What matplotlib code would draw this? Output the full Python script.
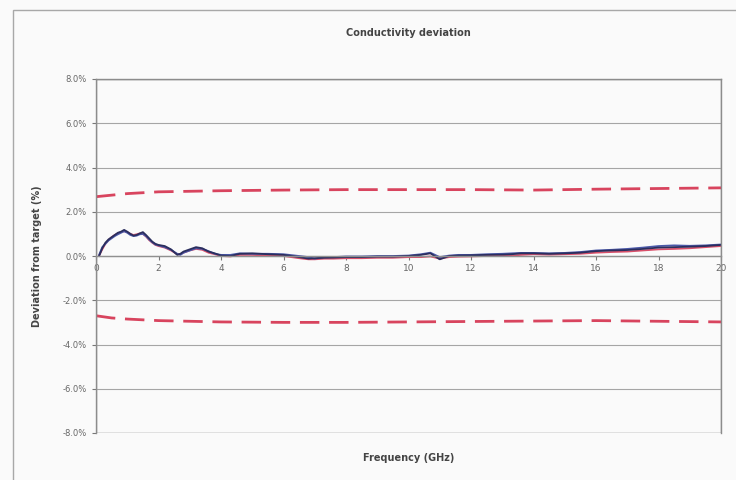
import matplotlib
matplotlib.use("Agg")
import matplotlib.pyplot as plt
from matplotlib.patches import Rectangle
from matplotlib.ticker import FuncFormatter, MultipleLocator

# ---- data ----
freq = [0.1, 0.2, 0.3, 0.4, 0.5, 0.6, 0.7, 0.8, 0.9, 1.0, 1.1, 1.2, 1.3, 1.4, 1.5,
        1.6, 1.7, 1.8, 1.9, 2.0, 2.2, 2.4, 2.6, 2.7, 2.8, 3.0, 3.2, 3.4, 3.6, 3.8,
        4.0, 4.3, 4.6, 5.0, 5.5, 6.0, 6.5, 6.8, 7.0, 7.3, 7.6, 8.0, 8.5, 9.0, 9.5,
        10.0, 10.4, 10.7, 11.0, 11.3, 11.6, 12.0, 12.5, 13.0, 13.3, 13.6, 14.0, 14.5,
        15.0, 15.5, 16.0, 16.5, 17.0, 17.5, 18.0, 18.5, 19.0, 19.5, 20.0]

dev_navy = [0.00, 0.35, 0.60, 0.75, 0.85, 0.95, 1.05, 1.10, 1.18, 1.10, 1.00, 0.92, 0.95,
            1.02, 1.08, 0.95, 0.80, 0.65, 0.55, 0.50, 0.45, 0.30, 0.05, 0.10, 0.20, 0.30,
            0.40, 0.35, 0.20, 0.12, 0.02, 0.00, 0.10, 0.12, 0.08, 0.05, -0.05, -0.12,
            -0.10, -0.08, -0.07, -0.05, -0.05, -0.03, -0.03, 0.00, 0.05, 0.12, -0.15,
            0.00, 0.02, 0.03, 0.05, 0.06, 0.08, 0.12, 0.12, 0.10, 0.12, 0.15, 0.22,
            0.25, 0.27, 0.32, 0.38, 0.40, 0.42, 0.45, 0.50]

dev_blue = [0.05, 0.40, 0.55, 0.70, 0.80, 0.90, 0.98, 1.05, 1.12, 1.05, 0.95, 0.90, 0.92,
            0.98, 1.00, 0.90, 0.75, 0.62, 0.52, 0.48, 0.40, 0.28, 0.10, 0.05, 0.15, 0.25,
            0.35, 0.32, 0.22, 0.10, 0.05, 0.05, 0.12, 0.10, 0.10, 0.08, 0.00, -0.05,
            -0.12, -0.05, -0.05, -0.02, -0.02, 0.00, 0.00, 0.02, 0.08, 0.15, -0.05,
            0.02, 0.05, 0.05, 0.08, 0.10, 0.12, 0.14, 0.14, 0.12, 0.14, 0.18, 0.25,
            0.28, 0.32, 0.38, 0.45, 0.48, 0.46, 0.48, 0.52]

dev_red = [0.02, 0.30, 0.55, 0.72, 0.85, 0.95, 1.02, 1.08, 1.12, 1.08, 1.00, 0.95, 0.98,
           1.02, 1.00, 0.88, 0.72, 0.60, 0.50, 0.45, 0.38, 0.25, 0.08, 0.08, 0.15, 0.25,
           0.32, 0.28, 0.15, 0.08, 0.00, -0.02, 0.05, 0.05, 0.02, 0.00, -0.10, -0.15,
           -0.15, -0.12, -0.12, -0.10, -0.10, -0.08, -0.08, -0.05, -0.05, -0.02, -0.12,
           -0.05, -0.03, -0.02, 0.00, 0.00, 0.02, 0.05, 0.08, 0.06, 0.08, 0.10, 0.15,
           0.18, 0.20, 0.25, 0.30, 0.32, 0.35, 0.40, 0.45]

limit_freq = [0.0, 0.5, 1.0, 2.0, 4.0, 6.0, 8.0, 10.0, 12.0, 14.0, 16.0, 18.0, 20.0]
upper_limit = [2.68, 2.75, 2.82, 2.90, 2.95, 2.98, 3.00, 3.00, 3.00, 2.98, 3.02, 3.05, 3.08]
lower_limit = [-2.70, -2.80, -2.85, -2.92, -2.98, -3.00, -3.00, -2.98, -2.96, -2.94, -2.92, -2.95, -2.98]

title = "Conductivity deviation"
xlabel = "Frequency (GHz)"
ylabel = "Deviation from target (%)"

# ---- figure ----
fig = plt.figure(figsize=(7.36, 4.8), dpi=100)
fig.patch.set_facecolor("#fafafa")
# outer chart border
fig.add_artist(Rectangle((13/736, -0.1), 1.2, 1 - 10/480 + 0.1, transform=fig.transFigure,
                         fill=False, edgecolor="#a8a8a8", linewidth=1.0))

ax = fig.add_axes([96/736, 47/480, 625/736, 354/480])
ax.set_facecolor("#fafafa")
ax.set_xlim(0, 20)
ax.set_ylim(-8, 8)

ax.yaxis.set_major_locator(MultipleLocator(2))
ax.xaxis.set_major_locator(MultipleLocator(2))
ax.yaxis.set_major_formatter(FuncFormatter(lambda v, p: f"{v:.1f}%"))
ax.grid(axis="y", color="#a5a5a5", linewidth=0.8)
ax.set_axisbelow(True)

for s in ["left", "right", "top"]:
    ax.spines[s].set_color("#8c8c8c")
    ax.spines[s].set_linewidth(1.0)
ax.spines["bottom"].set_position(("data", 0))
ax.spines["bottom"].set_color("#909090")
ax.spines["bottom"].set_linewidth(1.0)
# bottom frame line
ax.add_patch(Rectangle((0, 0), 1, 1, transform=ax.transAxes, fill=False,
                       edgecolor="#8c8c8c", linewidth=1.0, zorder=0.5))

ax.tick_params(axis="y", colors="#777777", labelsize=6, length=3, width=0.8, labelcolor="#666666")
ax.tick_params(axis="x", colors="#777777", labelsize=6.5, length=3, width=0.8, labelcolor="#666666", pad=3)

ax.plot(limit_freq, upper_limit, color="#d8445e", linewidth=2.0, dashes=(7, 3.5))
ax.plot(limit_freq, lower_limit, color="#d8445e", linewidth=2.0, dashes=(7, 3.5))

ax.plot(freq, dev_red, color="#d9506a", linewidth=1.3)
ax.plot(freq, dev_blue, color="#4a58a8", linewidth=1.3)
ax.plot(freq, dev_navy, color="#2b2e5e", linewidth=1.3)

fig.text((96 + 721) / 2 / 736, 1 - 33/480, title, ha="center", va="center",
         fontsize=7, fontweight="bold", color="#444444")
fig.text((96 + 721) / 2 / 736, 1 - 458/480, xlabel, ha="center", va="center",
         fontsize=7, fontweight="bold", color="#444444")
fig.text(37/736, 1 - 256/480, ylabel, ha="center", va="center", rotation=90,
         fontsize=7, fontweight="bold", color="#444444")

fig.savefig("out.png", dpi=100, facecolor=fig.get_facecolor())
